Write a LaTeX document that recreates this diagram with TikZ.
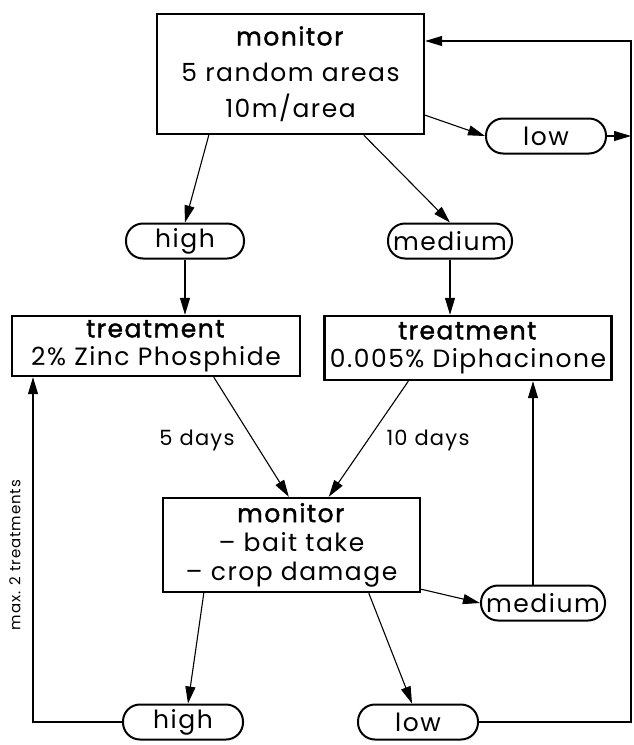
\documentclass[tikz,border=0pt]{standalone}
\usepackage{fontspec}
\setmainfont{Poppins}[LetterSpace=6,BoldFont={Poppins},BoldFeatures={FakeBold=1.6}]
\usetikzlibrary{arrows.meta,calc}
\begin{document}
\begin{tikzpicture}[x=1pt,y=-1pt,
  box/.style={draw,line width=2.4pt,inner sep=0pt,align=center,font=\fontsize{25}{36}\selectfont},
  oval/.style={draw,line width=2pt,rounded corners=17pt,inner sep=0pt,minimum height=35pt,font=\fontsize{25}{26}\selectfont},
  conn/.style={line width=1.1pt,-{Triangle[length=17pt,width=10pt]}},
  lbl/.style={font=\fontsize{21}{22}\selectfont,inner sep=0pt}]
\useasboundingbox (0,0) rectangle (633,745);
% boxes
\node[box,minimum width=267pt,minimum height=120pt] (top) at (290.5,74) {\textbf{monitor}\\5 random areas\\10m/area};
\node[box,minimum width=288pt,minimum height=60pt,font=\fontsize{25}{28}\selectfont] (T1) at (156,346) {\textbf{treatment}\\2\% Zinc Phosphide};
\node[box,minimum width=287pt,minimum height=64pt,font=\fontsize{25}{28}\selectfont] (T2) at (468,348) {\textbf{treatment}\\0.005\% Diphacinone};
\node[box,minimum width=257pt,minimum height=94pt,font=\fontsize{25}{29}\selectfont] (M2) at (291.5,545) {\textbf{monitor}\\-- bait take\\-- crop damage};
% ovals
\node[oval,minimum width=120pt] (low1) at (546,136) {low};
\node[oval,minimum width=118pt] (high1) at (185,241) {high};
\node[oval,minimum width=124pt] (med1) at (450,241) {medium};
\node[oval,minimum width=124pt] (med2) at (543,603) {medium};
\node[oval,minimum width=120pt] (high2) at (183,722) {high};
\node[oval,minimum width=120pt] (low2) at (418,722) {low};
% coordinates
\coordinate (r1) at (631,41);
\coordinate (r2) at (631,136);
\coordinate (r3) at (631,722);
\coordinate (l1) at (33,722);
% connectors
\draw[conn] (low2.east) -- (r3) -- (r1) -- (r1 -| top.east);
\draw[conn] (low1.east) -- (r2);
\draw[conn] ($(top.south east)+(0,-20)$) -- (low1.west);
\draw[conn] ($(top.south west)+(53,0)$) -- (high1.north);
\draw[conn] ($(top.south west)+(208,0)$) -- (med1.north);
\draw[conn] (high1.south) -- (high1.south |- T1.north);
\draw[conn] (med1.south) -- (med1.south |- T2.north);
\draw[conn] ($(T1.south west)+(203,0)$) -- ($(M2.north west)+(127,0)$);
\draw[conn] ($(T2.south west)+(85,0)$) -- ($(M2.north west)+(167,0)$);
\node[lbl] (d5) at (197,440) {5 days};
\node[lbl] (d10) at (428,440) {10 days};
\draw[conn] ($(M2.south east)+(0,-4)$) -- (med2.west);
\draw[conn] ([xshift=-10pt]med2.north) -- ([xshift=-10pt]med2.north |- T2.south);
\draw[conn] ($(M2.south west)+(42,0)$) -- ([xshift=5pt]high2.north);
\draw[conn] ($(M2.south west)+(207,0)$) -- ([xshift=-6pt]low2.north);
\draw[conn] (high2.west) -- (l1) -- (l1 |- T1.south);
\node[rotate=90,font=\fontsize{15}{16}\selectfont,inner sep=0pt] (mx) at (15,555) {max. 2 treatments};
\end{tikzpicture}
\end{document}
